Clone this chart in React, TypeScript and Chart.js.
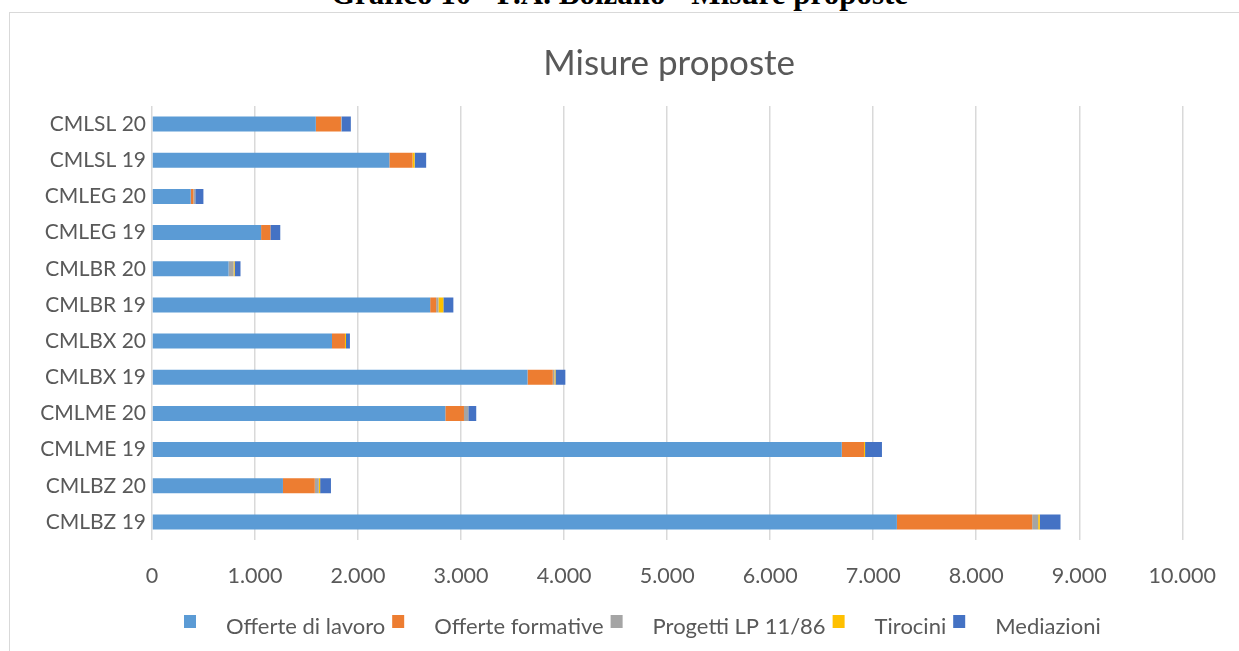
import React, { useEffect, useRef } from "react";
import { Chart, registerables } from "chart.js";

Chart.register(...registerables);

// Employment centres, listed bottom-to-top as they appear on the axis
const categories = [
  "CMLBZ 19",
  "CMLBZ 20",
  "CMLME 19",
  "CMLME 20",
  "CMLBX 19",
  "CMLBX 20",
  "CMLBR 19",
  "CMLBR 20",
  "CMLEG 19",
  "CMLEG 20",
  "CMLSL 19",
  "CMLSL 20",
];

const offerteLavoro = [7230, 1271, 6695, 2847, 3645, 1747, 2700, 743, 1059, 376, 2304, 1590];
const offerteFormative = [1313, 309, 216, 181, 245, 126, 58, 0, 90, 26, 225, 244];
const progettiLP = [58, 39, 0, 42, 16, 0, 22, 49, 0, 18, 0, 6];
const tirocini = [16, 13, 10, 0, 10, 10, 48, 10, 0, 0, 20, 0];
const mediazioni = [201, 105, 164, 77, 96, 38, 97, 57, 96, 79, 112, 90];

const seriesLabels = [
  "Offerte di lavoro",
  "Offerte formative",
  "Progetti LP 11/86",
  "Tirocini",
  "Mediazioni",
];
const seriesColors = ["#5B9BD5", "#ED7D31", "#A5A5A5", "#FFC000", "#4472C4"];

const chartTitle = "Misure proposte";
const pageHeading = "Grafico 10 - P.A. Bolzano - Misure proposte";

const xMin = 0;
const xMax = 10000;
const xStep = 1000;

const TEXT_COLOR = "#595959";
const GRID_COLOR = "#D9D9D9";
const FONT = "Lato";

// Italian thousands separator: 1.000, 10.000
const formatThousands = (v: number) =>
  String(Math.round(v)).replace(/\B(?=(\d{3})+(?!\d))/g, ".");

// Title centred over the plot area, as in Office charts
const plotTitle = {
  id: "plotTitle",
  afterDraw(chart: any) {
    const ctx = chart.ctx as CanvasRenderingContext2D;
    const area = chart.chartArea;
    ctx.save();
    ctx.font = `35px ${FONT}`;
    ctx.fillStyle = TEXT_COLOR;
    ctx.textAlign = "center";
    ctx.textBaseline = "middle";
    ctx.fillText(chartTitle, (area.left + area.right) / 2 + 2, 64);
    ctx.restore();
  },
};

// Legend drawn Excel-style: square marker, wide gap, then the label
const bottomLegend = {
  id: "bottomLegend",
  afterDraw(chart: any) {
    const ctx = chart.ctx as CanvasRenderingContext2D;
    ctx.save();
    ctx.font = `22px ${FONT}`;
    ctx.textBaseline = "middle";
    ctx.textAlign = "left";
    let x = 184;
    const boxTop = 615;
    const textY = 627;
    chart.data.datasets.forEach((ds: any) => {
      ctx.fillStyle = ds.backgroundColor;
      ctx.fillRect(x, boxTop, 12, 13);
      ctx.fillStyle = TEXT_COLOR;
      ctx.fillText(ds.label, x + 42, textY);
      x += 42 + ctx.measureText(ds.label).width + 7;
    });
    ctx.restore();
  },
};

export default function App() {
  const canvasRef = useRef<HTMLCanvasElement | null>(null);

  useEffect(() => {
    if (!canvasRef.current) return;
    const values = [offerteLavoro, offerteFormative, progettiLP, tirocini, mediazioni];
    const chart = new Chart(canvasRef.current, {
      type: "bar",
      data: {
        labels: categories,
        datasets: seriesLabels.map((label, i) => ({
          label,
          data: values[i],
          backgroundColor: seriesColors[i],
          borderWidth: 0,
          barPercentage: 0.415,
          categoryPercentage: 1,
        })),
      },
      options: {
        indexAxis: "y",
        responsive: false,
        animation: false,
        layout: { padding: { left: 0, right: 51, top: 106, bottom: 0 } },
        plugins: {
          legend: { display: false },
          tooltip: { enabled: false },
          title: { display: false },
        },
        scales: {
          x: {
            stacked: true,
            min: xMin,
            max: xMax,
            ticks: {
              stepSize: xStep,
              color: TEXT_COLOR,
              font: { family: FONT, size: 21.5 },
              padding: 23,
              maxRotation: 0,
              callback: (v: any) => formatThousands(Number(v)),
            },
            grid: { color: GRID_COLOR, lineWidth: 1.5, drawTicks: false },
            border: { display: false },
            afterFit: (scale: any) => {
              scale.height = 111;
            },
          },
          y: {
            stacked: true,
            reverse: true,
            ticks: {
              color: TEXT_COLOR,
              font: { family: FONT, size: 21 },
              padding: 6,
            },
            grid: { display: false, drawTicks: false },
            border: { display: false },
            afterFit: (scale: any) => {
              scale.width = 152;
            },
          },
        },
      },
      plugins: [plotTitle, bottomLegend],
    });
    return () => chart.destroy();
  }, []);

  return (
    <div
      style={{
        position: "fixed",
        left: 0,
        top: 0,
        width: 1239,
        height: 651,
        overflow: "hidden",
        background: "#ffffff",
      }}
    >
      <div
        style={{
          position: "absolute",
          left: 0,
          width: 1239,
          top: -22,
          textAlign: "center",
          fontFamily: "'Liberation Serif', serif",
          fontWeight: "bold",
          fontSize: 31,
          lineHeight: "31px",
          color: "#000000",
          whiteSpace: "nowrap",
        }}
      >
        {pageHeading}
      </div>
      <div
        style={{
          position: "absolute",
          left: 9,
          top: 12,
          width: 1300,
          height: 700,
          borderTop: "1.5px solid #D9D9D9",
          borderLeft: "1.5px solid #D9D9D9",
          boxSizing: "border-box",
        }}
      />
      <canvas
        ref={canvasRef}
        width={1239}
        height={651}
        style={{ position: "absolute", left: 0, top: 0, width: 1239, height: 651 }}
      />
    </div>
  );
}
